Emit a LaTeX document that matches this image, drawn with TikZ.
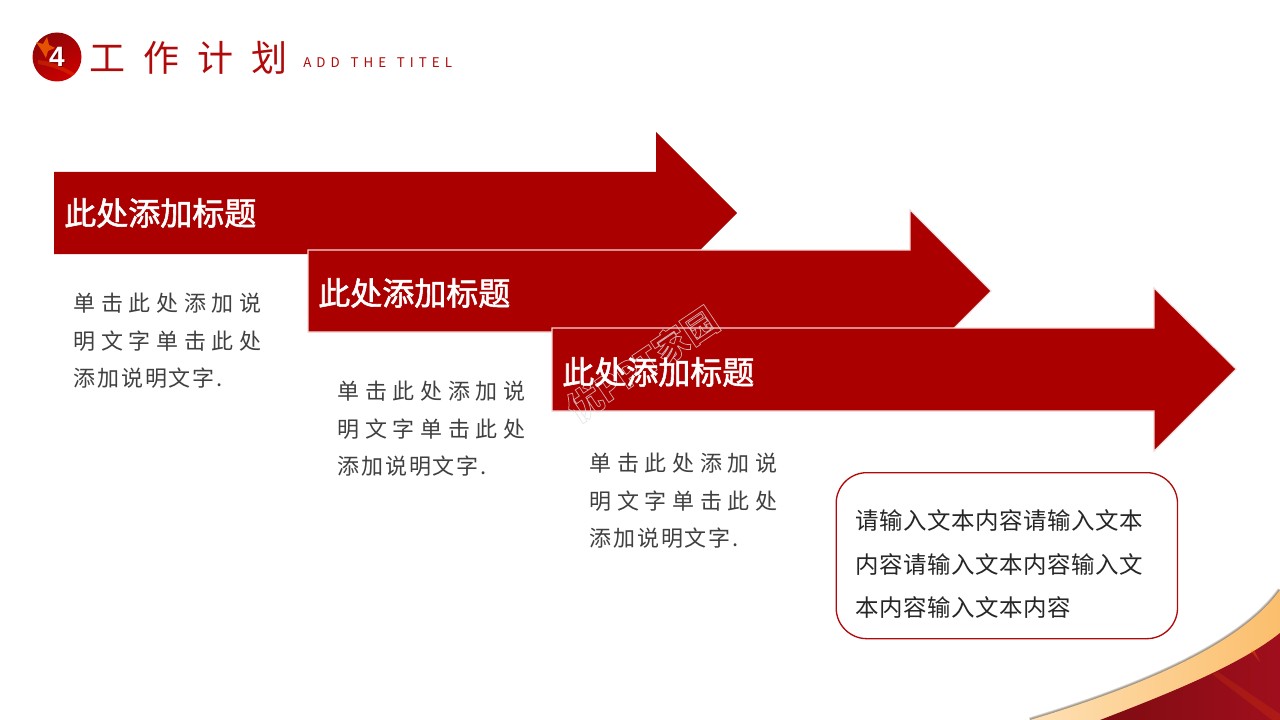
\documentclass[tikz,border=0pt]{standalone}
\usepackage{fontspec}
\usetikzlibrary{calc,fadings,shadows}
\newfontfamily\cjk{Noto Sans CJK SC}
\newfontfamily\latinsans{Liberation Sans}
\definecolor{arrowred}{HTML}{AB0000}
\definecolor{titlered}{HTML}{B00A0A}
\definecolor{bodygrey}{HTML}{404040}
\definecolor{goldlight}{HTML}{FEE0B4}
\definecolor{golddeep}{HTML}{FBBE6C}
\definecolor{ribbondark}{HTML}{7E0C12}
\definecolor{ribbonbright}{HTML}{A00E1C}
\definecolor{shadowbrown}{HTML}{3A2A15}
\newcommand{\strokedtext}[1]{\special{pdf:code 1 Tr 0.55 w 0.88 G}#1\special{pdf:code 0 Tr}}
\newcommand{\tightline}[1]{{\addfontfeature{LetterSpace=8}#1}}
\tikzset{
  px/.style={x=0.75pt,y=-0.75pt},
  bannerarrow/.style={fill=arrowred,draw=none},
  edgedarrow/.style={fill=arrowred,draw=white!85!arrowred,line width=0.8pt},
  bannerlabel/.style={anchor=west,inner sep=0pt,text=white,font=\cjk\addfontfeature{FakeBold=1.8}\fontsize{24}{24}\selectfont},
  bodytext/.style={anchor=north west,inner sep=0pt,text=bodygrey,align=left,
    font=\cjk\addfontfeature{LetterSpace=25.5}\fontsize{16.5}{28.2}\selectfont},
  boxtext/.style={anchor=north west,inner sep=0pt,text=black!85,align=left,
    font=\cjk\addfontfeature{LetterSpace=2}\fontsize{17.6}{32.6}\selectfont},
}
\begin{document}
\begin{tikzpicture}[px]
\useasboundingbox (0,0) rectangle (1280,720);
\fill[white] (0,0) rectangle (1280,720);
% swoosh shadow
\foreach \w in {4,3,2,1}{
  \draw[shadowbrown,opacity=.17,line width=\w pt] (1030,720) .. controls (1120,693) and (1237,650) .. (1280,590);
}
\shade[left color=goldlight,right color=golddeep]
 (1030,720) .. controls (1120,693) and (1237,650) .. (1280,590) -- (1280,720) -- cycle;
\shade[left color=ribbondark,right color=ribbonbright]
 (1100,720) .. controls (1170,693) and (1240,665) .. (1280,633) -- (1280,720) -- cycle;
\fill[orange!70!red,opacity=.16] (1212,674) -- (1218,672) -- (1280,714) -- (1280,720) -- (1272,720) -- cycle;
\fill[orange!80!red,opacity=.35] (1251,651) -- (1254,650) -- (1260,662) -- cycle;
% arrows
\path[bannerarrow] (54,172) -- (656,172) -- (656,132) -- (737,213) -- (656,294) -- (656,254) -- (54,254) -- cycle;
\path[edgedarrow] (308,250) -- (910,250) -- (910,210) -- (991,291) -- (910,372) -- (910,332) -- (308,332) -- cycle;
\path[edgedarrow] (552,328) -- (1154,328) -- (1154,288) -- (1236,369) -- (1154,451) -- (1154,411) -- (552,411) -- cycle;
% watermark
\node[rotate=34,opacity=.75,inner sep=0pt,font=\cjk\bfseries\fontsize{26}{26}\selectfont] (wm) at (642,364) {\strokedtext{优PPT家园}};
\node[bannerlabel] (t1) at (64,213) {此处添加标题};
\node[bannerlabel] (t2) at (318,293) {此处添加标题};
\node[bannerlabel] (t3) at (562,372) {此处添加标题};
\node[bodytext] (b1) at (73.5,293) {单击此处添加说\\明文字单击此处\\\tightline{添加说明文字.}};
\node[bodytext] (b2) at (337.5,381) {单击此处添加说\\明文字单击此处\\\tightline{添加说明文字.}};
\node[bodytext] (b3) at (589.5,453) {单击此处添加说\\明文字单击此处\\\tightline{添加说明文字.}};
\node[draw=titlered,line width=1pt,rounded corners=23pt,minimum width=256pt,minimum height=124.5pt,inner sep=0pt,anchor=north west] (box) at (835.5,472) {};
\node[boxtext] (bt) at (855.5,509.5) {请输入文本内容请输入文本\\内容请输入文本内容输入文\\本内容输入文本内容};
% header
\shade[left color=ribbondark!60!red!80!black,right color=red!80!black,shading angle=30] (57,57) circle (24.5);
\fill[orange!85!red,opacity=.75] (36,42) -- (43,44) -- (47,37) -- (49,45) -- (55,48) -- (48,51) -- (46,58) -- (42,51) -- cycle;
\fill[orange!80!red,opacity=.25] (38,60) .. controls (55,62) and (65,68) .. (76,74) -- (72,76) .. controls (62,70) and (50,66) .. (38,64) -- cycle;
\node[inner sep=0pt,text=black,opacity=.4,font=\latinsans\bfseries\fontsize{21}{21}\selectfont] (numshadow) at (57.8,57.8) {4};
\node[inner sep=0pt,text=white,font=\latinsans\bfseries\fontsize{21}{21}\selectfont] (num) at (57,57) {4};
\node[anchor=west,inner sep=0pt,text=titlered,font=\cjk\addfontfeature{LetterSpace=50}\fontsize{27}{27}\selectfont] (title) at (89,58) {工作计划};
\node[anchor=west,inner sep=0pt,text=titlered,font=\cjk\addfontfeature{LetterSpace=38}\fontsize{10}{10}\selectfont] (sub) at (303,63) {ADD\hspace{8pt}THE\hspace{8pt}TITEL};
\end{tikzpicture}
\end{document}
